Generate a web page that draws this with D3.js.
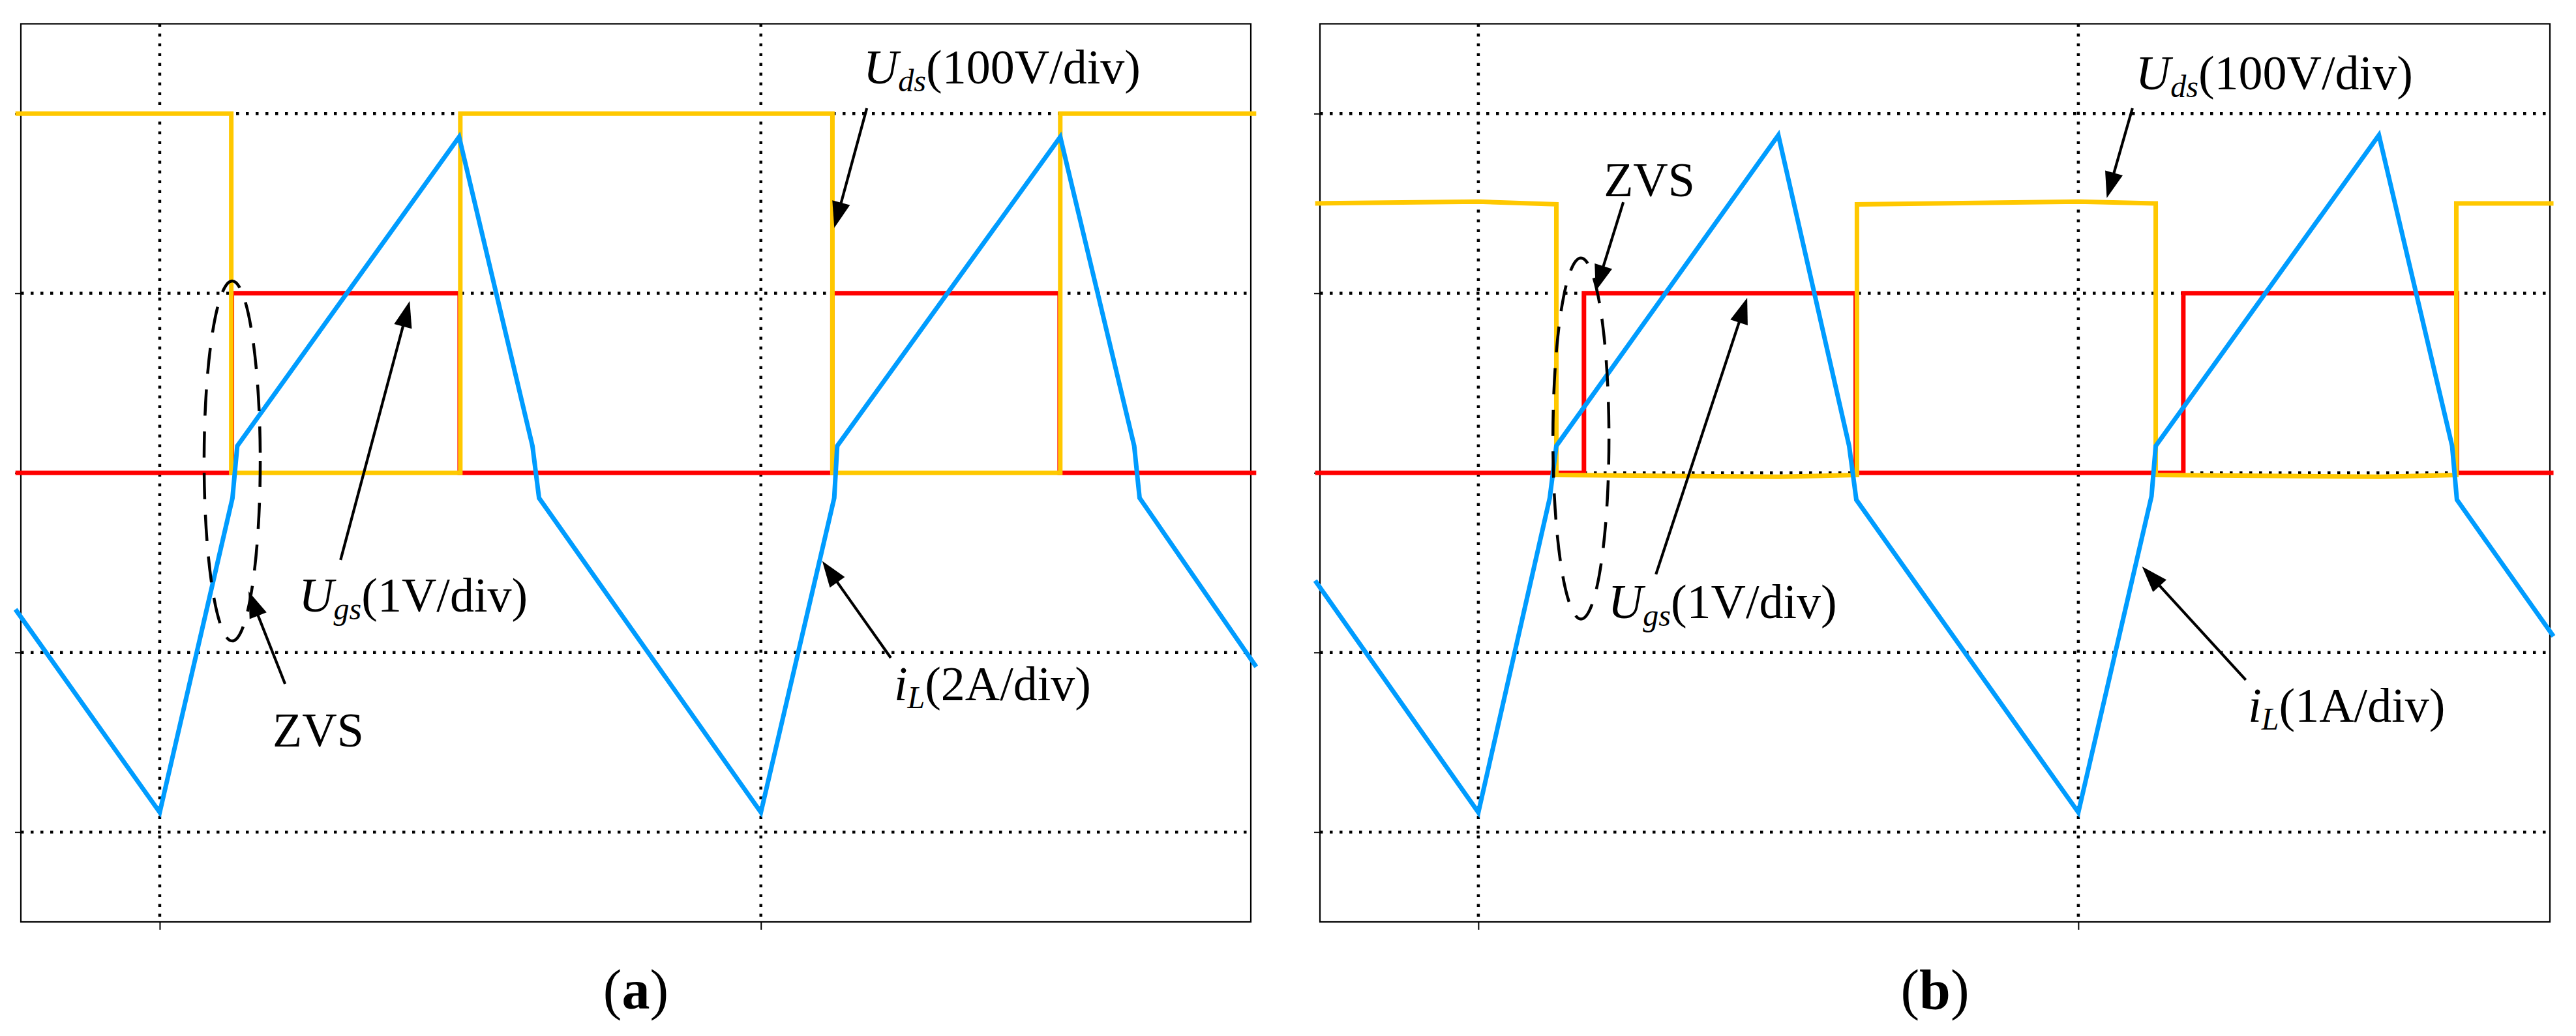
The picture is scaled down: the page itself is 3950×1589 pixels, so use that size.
<!DOCTYPE html>
<html>
<head>
<meta charset="utf-8">
<script src="https://cdn.jsdelivr.net/npm/d3@7"></script>
<style>
body { margin: 0; background: #fff; }
svg { display: block; }
.axis path { display: none; }
.axis line { stroke: #000; stroke-width: 2; }
</style>
</head>
<body>
<svg id="chart"></svg>
<script>
// time axis in grid divisions, amplitude in grid divisions (0 = gate low level)
var ticksY = [-2, -1, 0, 1, 2];
var ticksX = [1, 2];

// panel (a)
var aDomainX = [0.769, 2.815];
var aUdsT = [0.760, 1.119, 1.119, 1.500, 1.500, 2.119, 2.119, 2.498, 2.498, 2.824];
var aUdsV = [2, 2, 0, 0, 2, 2, 0, 0, 2, 2];
var aUgsT = [0.760, 1.120, 1.120, 1.499, 1.499, 2.119, 2.119, 2.497, 2.497, 2.824];
var aUgsV = [0, 0, 1, 1, 0, 0, 1, 1, 0, 0];
var aIlT = [0.760, 1.000, 1.121, 1.129, 1.498, 1.620, 1.631, 2.000, 2.122, 2.127, 2.498, 2.621, 2.630, 2.824];
var aIlV = [-0.76, -1.89, -0.14, 0.15, 1.87, 0.15, -0.14, -1.89, -0.14, 0.15, 1.87, 0.15, -0.14, -1.08];

// panel (b)
var bDomainX = [0.736, 2.786];
var bUdsT = [0.728, 1.000, 1.130, 1.130, 1.500, 1.631, 1.631, 2.000, 2.129, 2.129, 2.503, 2.630, 2.630, 2.792];
var bUdsV = [1.50, 1.51, 1.495, -0.012, -0.022, -0.012, 1.495, 1.51, 1.50, -0.012, -0.022, -0.012, 1.50, 1.50];
var bUgsT = [0.728, 1.176, 1.176, 1.629, 1.629, 2.175, 2.175, 2.631, 2.631, 2.792];
var bUgsV = [0, 0, 1, 1, 0, 0, 1, 1, 0, 0];
var bIlT = [0.728, 1.000, 1.119, 1.130, 1.500, 1.618, 1.630, 2.000, 2.122, 2.129, 2.501, 2.623, 2.631, 2.792];
var bIlV = [-0.60, -1.89, -0.14, 0.15, 1.88, 0.15, -0.15, -1.89, -0.13, 0.15, 1.88, 0.15, -0.15, -0.91];

// trace labels
var udsScale = ["100V/div", "100V/div"];
var ugsScale = ["1V/div", "1V/div"];
var ilScale = ["2A/div", "1A/div"];
var captions = ["a", "b"];

var W = 3950, H = 1589;
var colors = { uds: "#FFC800", ugs: "#FF0000", il: "#009CFF" };
var font = "'Liberation Serif', 'Times New Roman', serif";

var svg = d3.select("#chart")
	.attr("width", W)
	.attr("height", H)
	.style("background", "#fff");

function zip(t, v) {
	return t.map(function(d, i) { return [d, v[i]]; });
}

function arrow(g, x1, y1, x2, y2) {
	var dx = x2 - x1, dy = y2 - y1;
	var len = Math.sqrt(dx * dx + dy * dy);
	var ux = dx / len, uy = dy / len;
	var headL = 40, headW = 14;
	var bx = x2 - ux * headL, by = y2 - uy * headL;
	g.append("line")
		.attr("x1", x1).attr("y1", y1)
		.attr("x2", bx + ux * 4).attr("y2", by + uy * 4)
		.attr("stroke", "#000")
		.attr("stroke-width", 4.2);
	g.append("path")
		.attr("d", "M" + x2 + "," + y2 +
			"L" + (bx - uy * headW) + "," + (by + ux * headW) +
			"L" + (bx + uy * headW) + "," + (by - ux * headW) + "Z")
		.attr("fill", "#000");
}

// label like U_ds(100V/div)
function label(g, x, y, main, sub, rest) {
	var t = g.append("text")
		.attr("x", x).attr("y", y)
		.attr("font-family", font)
		.attr("font-size", 74)
		.attr("fill", "#000");
	t.append("tspan").attr("font-style", "italic").text(main);
	t.append("tspan").attr("font-style", "italic").attr("font-size", 48).attr("dy", 12).text(sub);
	t.append("tspan").attr("dy", -12).text(rest);
}

var draw = function(p) {
	var left = p.left, top = 36.5, width = 1886, height = 1377.5;

	var x = d3.scaleLinear().domain(p.domainX).range([left, left + width]);
	var y = d3.scaleLinear().domain([-2.5, 2.5]).range([top + height, top]);

	var g = svg.append("g");

	// dotted grid
	g.selectAll(".hgrid")
		.data(ticksY)
		.enter()
		.append("line")
		.attr("x1", left).attr("x2", left + width)
		.attr("y1", function(d) { return y(d); })
		.attr("y2", function(d) { return y(d); })
		.attr("stroke", "#000")
		.attr("stroke-width", 4.5)
		.attr("stroke-dasharray", "4.5 10.5");
	g.selectAll(".vgrid")
		.data(ticksX)
		.enter()
		.append("line")
		.attr("y1", top).attr("y2", top + height)
		.attr("x1", function(d) { return x(d); })
		.attr("x2", function(d) { return x(d); })
		.attr("stroke", "#000")
		.attr("stroke-width", 4.5)
		.attr("stroke-dasharray", "4.5 10.5");

	// frame and ticks
	g.append("rect")
		.attr("x", left).attr("y", top)
		.attr("width", width).attr("height", height)
		.attr("fill", "none")
		.attr("stroke", "#000")
		.attr("stroke-width", 2.2);
	g.append("g")
		.attr("class", "axis")
		.attr("transform", "translate(" + left + ",0)")
		.call(d3.axisLeft(y).tickValues(ticksY).tickSize(9).tickFormat(""));
	g.append("g")
		.attr("class", "axis")
		.attr("transform", "translate(0," + (top + height) + ")")
		.call(d3.axisBottom(x).tickValues(ticksX).tickSize(12).tickFormat(""));

	// traces
	var line = d3.line()
		.x(function(d) { return x(d[0]); })
		.y(function(d) { return y(d[1]); });
	[[p.ugs, colors.ugs], [p.uds, colors.uds], [p.il, colors.il]].forEach(function(s) {
		g.append("path")
			.datum(s[0])
			.attr("d", line)
			.attr("fill", "none")
			.attr("stroke", s[1])
			.attr("stroke-width", 7)
			.attr("stroke-linejoin", "miter");
	});

	// ZVS ellipse
	var e = p.ellipse;
	g.append("ellipse")
		.attr("cx", x(e[0])).attr("cy", y(e[1]))
		.attr("rx", x(e[0] + e[2]) - x(e[0]))
		.attr("ry", y(e[1] - e[3]) - y(e[1]))
		.attr("fill", "none")
		.attr("stroke", "#000")
		.attr("stroke-width", 4.5)
		.attr("stroke-dasharray", "40 24");

	// arrows
	p.arrows.forEach(function(a) {
		arrow(g, x(a[0]), y(a[1]), x(a[2]), y(a[3]));
	});

	// labels
	var L = p.labels;
	label(g, x(L.uds[0]), y(L.uds[1]), "U", "ds", "(" + p.udsText + ")");
	label(g, x(L.ugs[0]), y(L.ugs[1]), "U", "gs", "(" + p.ugsText + ")");
	label(g, x(L.il[0]), y(L.il[1]), "i", "L", "(" + p.ilText + ")");
	g.append("text")
		.attr("x", x(L.zvs[0])).attr("y", y(L.zvs[1]))
		.attr("font-family", font)
		.attr("font-size", 74)
		.text("ZVS");

	// caption
	var c = g.append("text")
		.attr("x", left + width / 2).attr("y", 1547)
		.attr("text-anchor", "middle")
		.attr("font-family", font)
		.attr("font-size", 86);
	c.append("tspan").text("(");
	c.append("tspan").attr("font-weight", "bold").text(p.caption);
	c.append("tspan").text(")");
};

draw({
	left: 32,
	domainX: aDomainX,
	uds: zip(aUdsT, aUdsV),
	ugs: zip(aUgsT, aUgsV),
	il: zip(aIlT, aIlV),
	ellipse: [1.1205, 0.066, 0.0467, 1.002],
	arrows: [
		[2.1762, 2.030, 2.1221, 1.364],
		[1.3008, -0.485, 1.4158, 0.956],
		[1.2085, -1.175, 1.1477, -0.660],
		[2.2161, -1.030, 2.1021, -0.491]
	],
	labels: { uds: [2.1705, 2.168], ugs: [1.2313, -0.772], zvs: [1.1878, -1.524], il: [2.2215, -1.266] },
	udsText: udsScale[0], ugsText: ugsScale[0], ilText: ilScale[0],
	caption: captions[0]
});

draw({
	left: 2024,
	domainX: bDomainX,
	uds: zip(bUdsT, bUdsV),
	ugs: zip(bUgsT, bUgsV),
	il: zip(bIlT, bIlV),
	ellipse: [1.171, 0.191, 0.0467, 1.005],
	arrows: [
		[2.0902, 2.030, 2.0474, 1.530],
		[1.2416, 1.507, 1.1955, 1.012],
		[1.2960, -0.565, 1.4481, 0.975],
		[2.2791, -1.153, 2.1063, -0.522]
	],
	labels: { uds: [2.0956, 2.136], ugs: [1.2162, -0.808], zvs: [1.2090, 1.540], il: [2.2830, -1.386] },
	udsText: udsScale[1], ugsText: ugsScale[1], ilText: ilScale[1],
	caption: captions[1]
});
</script>
</body>
</html>
